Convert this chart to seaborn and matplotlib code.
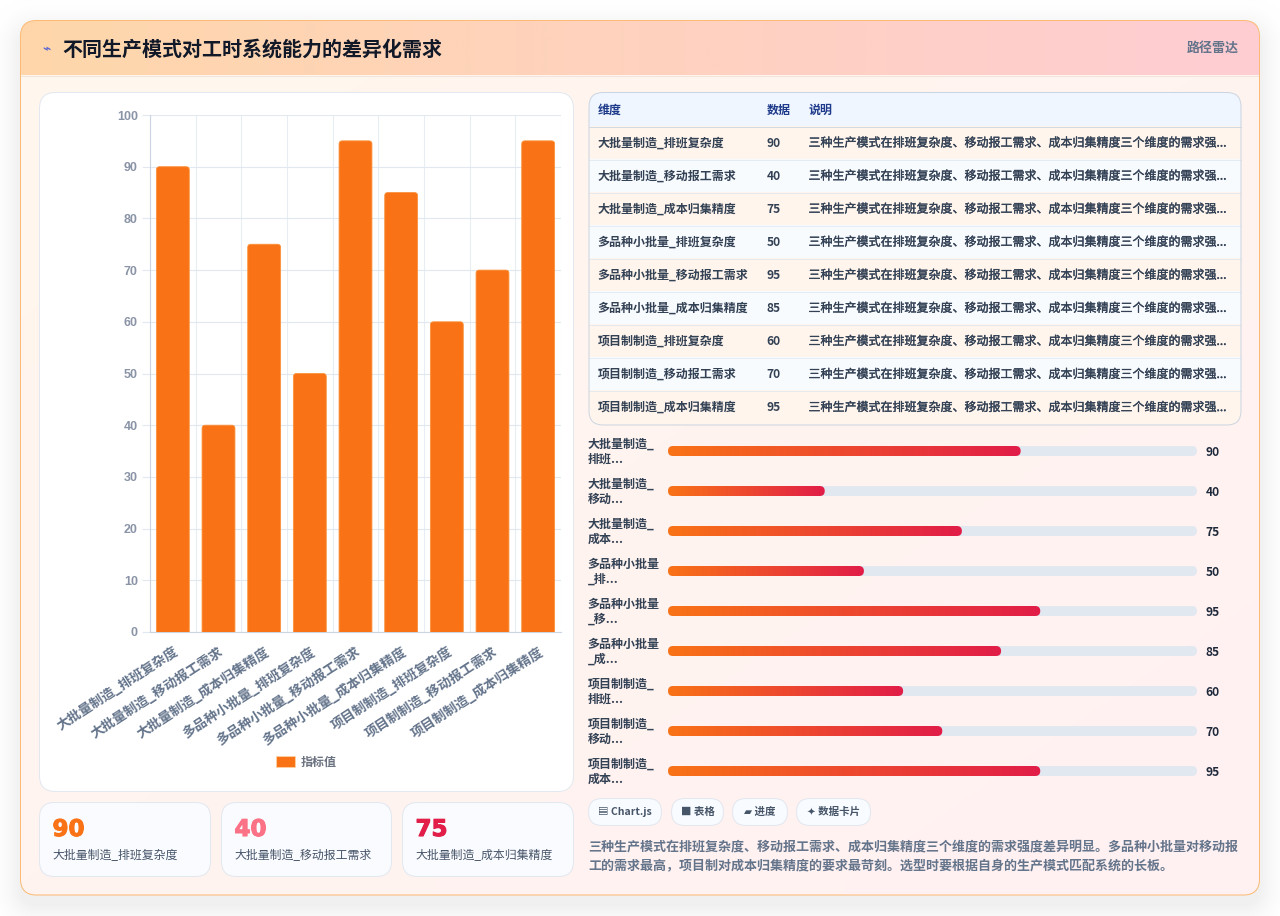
import numpy as np
import pandas as pd
import matplotlib
matplotlib.use("Agg")
import matplotlib.pyplot as plt
from matplotlib.patches import FancyBboxPatch, Rectangle
from matplotlib.transforms import ScaledTranslation
import matplotlib.patheffects as pe
import seaborn as sns

# ---- content ----
title = "不同生产模式对工时系统能力的差异化需求"
tag = "路径雷达"
dimensions = ["大批量制造_排班复杂度", "大批量制造_移动报工需求", "大批量制造_成本归集精度",
              "多品种小批量_排班复杂度", "多品种小批量_移动报工需求", "多品种小批量_成本归集精度",
              "项目制制造_排班复杂度", "项目制制造_移动报工需求", "项目制制造_成本归集精度"]
values = [90, 40, 75, 50, 95, 85, 60, 70, 95]
series_name = "指标值"
table_header = ["维度", "数据", "说明"]
note_short = "三种生产模式在排班复杂度、移动报工需求、成本归集精度三个维度的需求强..."
wrapped_labels = ["大批量制造_\n排班...", "大批量制造_\n移动...", "大批量制造_\n成本...",
                  "多品种小批量\n_排...", "多品种小批量\n_移...", "多品种小批量\n_成...",
                  "项目制制造_\n排班...", "项目制制造_\n移动...", "项目制制造_\n成本..."]
chips = ["▤ Chart.js", "■ 表格", "▰ 进度", "✦ 数据卡片"]
paragraph = ["三种生产模式在排班复杂度、移动报工需求、成本归集精度三个维度的需求强度差异明显。多品种小批量对移动报",
             "工的需求最高，项目制对成本归集精度的要求最苛刻。选型时要根据自身的生产模式匹配系统的长板。"]
card_colors = ["#f97316", "#fb7185", "#e11d48"]
progress_max = 135

W, H = 1280, 916
CJK = ["Noto Sans CJK SC", "DejaVu Sans"]
px = 0.72  # points per pixel at dpi 100

sns.set_theme(style="white")
plt.rcParams["font.family"] = CJK
plt.rcParams["axes.unicode_minus"] = False

fig = plt.figure(figsize=(W / 100, H / 100), dpi=100)
canvas = fig.add_axes([0, 0, 1, 1], zorder=0)
canvas.set_xlim(0, W)
canvas.set_ylim(H, 0)
canvas.axis("off")


def axes_at(x0, y0, x1, y1, zorder=2):
    return fig.add_axes([x0 / W, 1 - y1 / H, (x1 - x0) / W, (y1 - y0) / H], zorder=zorder)


def rounded(x0, y0, x1, y1, r, **kw):
    return FancyBboxPatch((x0, y0), x1 - x0, y1 - y0,
                          boxstyle=f"round,pad=0,rounding_size={r}", **kw)


def hex_rgb(c):
    return np.array(matplotlib.colors.to_rgb(c))


def gradient(ax, x0, y0, x1, y1, c0, c1, clip, diagonal=0.0, z=1):
    nx, ny = 256, 32
    xx, yy = np.meshgrid(np.linspace(0, 1, nx), np.linspace(0, 1, ny))
    t = ((xx + diagonal * yy) / (1 + diagonal))[..., None]
    img = hex_rgb(c0) * (1 - t) + hex_rgb(c1) * t
    im = ax.imshow(img, extent=(x0, x1, y1, y0), origin="upper", aspect="auto",
                   interpolation="bilinear", zorder=z)
    im.set_clip_path(clip)
    return im


# page backdrop with the soft shadow under the main card
yy, xx = np.mgrid[0:H, 0:W]
cx, cy, hx, hy = 640, 468, 620, 438
qx = np.abs(xx + 0.5 - cx) - hx + 16
qy = np.abs(yy + 0.5 - cy) - hy + 16
dist = np.hypot(np.maximum(qx, 0), np.maximum(qy, 0)) - 16
shade = 0.055 * np.clip(1 - dist / 34, 0, 1) ** 2
canvas.imshow((1 - shade)[..., None] * np.ones(3), extent=(0, W, H, 0), aspect="auto", zorder=0)
canvas.set_xlim(0, W)
canvas.set_ylim(H, 0)

# main card and its header band
card_clip = rounded(20.5, 20.5, 1259.5, 895, 16, fc="none", ec="none", transform=canvas.transData)
canvas.add_patch(card_clip)
gradient(canvas, 20, 20, 1259, 895, "#fff7ed", "#fff1f2", card_clip, diagonal=1.0, z=1)
gradient(canvas, 20, 20, 1259, 75, "#fed7aa", "#fecdd3", card_clip, diagonal=0.0, z=2)
canvas.plot([20, 1259], [75.5, 75.5], color="#f1e4da", lw=0.7, zorder=3)
canvas.add_patch(rounded(20.5, 20.5, 1259.5, 895, 16, fc="none", ec="#fdba74", lw=0.72, zorder=4))

canvas.text(46, 49, "⌁", color="#4f5fd6", fontsize=14 * px, ha="center", va="center",
            family=["DejaVu Sans"], zorder=5, fontweight="bold")
canvas.text(62, 49.5, title, color="#111827", fontsize=20 * px, fontweight="bold", va="center", zorder=5)
canvas.text(1239, 48, tag, color="#64748b", fontsize=13 * px, fontweight="bold", va="center", ha="right", zorder=5)

# chart panel
canvas.add_patch(rounded(39.5, 92.5, 573.5, 791.5, 16, fc="white", ec="#e2e8f0", lw=0.72, zorder=5))

# bar chart
ax = axes_at(150, 115, 561, 632)
ax.patch.set_alpha(0)
frame = pd.DataFrame({"dimension": dimensions, "value": values})
sns.barplot(data=frame, x="dimension", y="value", color="#f97316", saturation=1, width=0.72,
            ax=ax, label=series_name, zorder=3)
ax.set_xlim(-0.5, len(values) - 0.5)
ax.set_ylim(0, 100)
ax.set_xlabel("")
ax.set_ylabel("")
ax.set_yticks(np.arange(0, 101, 10))
ax.set_xticks(np.arange(len(values)))
ax.set_xticks(np.arange(len(values) + 1) - 0.5, minor=True)
ax.set_xticklabels(dimensions, rotation=33, ha="right", rotation_mode="anchor",
                   fontsize=13.4 * px, fontweight="bold", color="#64748b")
label_shift = ScaledTranslation(-3 / 100, 0, fig.dpi_scale_trans)
for lab in ax.get_xticklabels():
    lab.set_transform(lab.get_transform() + label_shift)
for lab in ax.get_yticklabels():
    lab.set(family=["Liberation Sans"], fontsize=12.5 * px, fontweight="bold", color="#8a94a6")
ax.tick_params(axis="x", which="major", length=0, pad=9)
ax.tick_params(axis="x", which="minor", length=8 * px, color="#e2e8f0", width=0.8)
ax.tick_params(axis="y", which="major", length=8 * px, color="#e2e8f0", width=0.8, pad=3, left=True)
ax.grid(True, axis="y", which="major", color="#e2e8f0", lw=0.8, zorder=0)
ax.grid(True, axis="x", which="minor", color="#e8edf3", lw=0.8, zorder=0)
ax.grid(False, axis="x", which="major")
ax.set_axisbelow(True)
for side in ("top", "right"):
    ax.spines[side].set_visible(False)
for side in ("left", "bottom"):
    ax.spines[side].set_visible(True)
    ax.spines[side].set_color("#cbd5e1")
    ax.spines[side].set_linewidth(0.8)

# round the top corners of each bar; the bottom corners fall below the clipped baseline
sx = 411 / len(values)
sy = 517 / 100
for bar in list(ax.patches):
    bx, bw, bh = bar.get_x(), bar.get_width(), bar.get_height()
    fancy = FancyBboxPatch((bx, -2), bw, bh + 2, boxstyle="round,pad=0,rounding_size=0.07",
                           mutation_aspect=sx / sy,
                           fc="#f97316", ec="#fb923c", lw=0.6, zorder=3)
    ax.add_patch(fancy)
    fancy.set_clip_path(ax.patch)
    bar.set_visible(False)

legend_handle = Rectangle((0, 0), 1, 1, fc="#f97316", ec="#fed7aa", lw=0.5)
ax.legend([legend_handle], [series_name], loc="center", frameon=False,
          bbox_to_anchor=((306 - 150) / 411, (632 - 762) / 517), handlelength=19 / 12, handleheight=1.0,
          handletextpad=0.45, prop={"size": 12 * px, "weight": "bold"}, labelcolor="#6b7280", borderpad=0)

# stat cards
card_spans = [(39.5, 210.5), (221.5, 391.5), (402.5, 573.5)]
for i, (x0, x1) in enumerate(card_spans):
    canvas.add_patch(rounded(x0, 802.5, x1, 876.5, 15, fc="#f9fbff", ec="#e2e8f0", lw=0.72, zorder=5))
    number = canvas.text(x0 + 13, 829.5, str(values[i]), color=card_colors[i], fontsize=23 * px,
                         fontweight="bold", family=["DejaVu Sans"], va="center", zorder=6)
    number.set_path_effects([pe.withStroke(linewidth=0.8, foreground=card_colors[i])])
    canvas.text(x0 + 13, 856, dimensions[i], color="#475569", fontsize=11.9 * px, va="center", zorder=6)

# data table
tx0, ty0, tx1, ty1 = 589, 92.5, 1241, 425
table_clip = rounded(tx0, ty0, tx1, ty1, 14, fc="none", ec="none", transform=canvas.transData)
canvas.add_patch(table_clip)
header_rect = Rectangle((tx0, ty0), tx1 - tx0, 33.5, fc="#eff6ff", ec="none", zorder=5)
canvas.add_patch(header_rect)
header_rect.set_clip_path(table_clip)
row_h = 33.06
row_top = 126
column_x = [597.5, 766.5, 808.5]
for xp, text in zip(column_x, table_header):
    canvas.text(xp, 110, text, color="#1e3a8a", fontsize=12 * px, fontweight="bold", va="center", zorder=7)
for i, (name, val) in enumerate(zip(dimensions, values)):
    top = row_top + i * row_h
    r = Rectangle((tx0, top), tx1 - tx0, row_h, fc="#fff5ec" if i % 2 == 0 else "#f8fbfe", ec="none", zorder=5)
    canvas.add_patch(r)
    r.set_clip_path(table_clip)
    mid = top + row_h / 2 + 0.5
    canvas.text(column_x[0], mid, name, color="#334155", fontsize=12 * px, fontweight="bold", va="center", zorder=7)
    canvas.text(column_x[1], mid, str(val), color="#334155", fontsize=12 * px, fontweight="bold", va="center", zorder=7)
    note = canvas.text(column_x[2], mid, note_short, color="#334155", fontsize=12 * px, va="center", zorder=7)
    note.set_path_effects([pe.withStroke(linewidth=0.25, foreground="#334155")])
    canvas.plot([tx0, tx1], [top + 0.5, top + 0.5], color="#cbd5e1" if i == 0 else "#e2e8f0", lw=0.6, zorder=6)
canvas.add_patch(rounded(tx0, ty0, tx1, ty1, 14, fc="none", ec="#cbd5e1", lw=0.72, zorder=8))

# progress rows share one value scale
prog = axes_at(668, 431, 1197, 791, zorder=3)
prog.patch.set_alpha(0)
prog.axis("off")
unit = 529 / progress_max
for i, (label, val) in enumerate(zip(wrapped_labels, values)):
    mid = 451 + 40 * i
    track = FancyBboxPatch((0, mid - 5), progress_max, 10, boxstyle=f"round,pad=0,rounding_size={5 / unit}",
                           mutation_aspect=unit, fc="#e2e8f0", ec="none", zorder=1)
    prog.add_patch(track)
    fill = FancyBboxPatch((0, mid - 5), val, 10, boxstyle=f"round,pad=0,rounding_size={5 / unit}",
                          mutation_aspect=unit, fc="none", ec="none", zorder=2)
    prog.add_patch(fill)
    gradient(prog, 0, mid - 5, val, mid + 5, "#f97316", "#e11d48", fill, z=2)
    l1, l2 = label.split("\n")
    canvas.text(587.5, mid - 7, l1, color="#334155", fontsize=12 * px, fontweight="bold", va="center", zorder=6)
    canvas.text(587.5, mid + 8.5, l2, color="#334155", fontsize=12 * px, fontweight="bold", va="center", zorder=6)
    canvas.text(1205.5, mid + 1, str(val), color="#1e293b", fontsize=12 * px, fontweight="bold", va="center", zorder=6)
prog.set_xlim(0, progress_max)
prog.set_ylim(791, 431)

# technology chips
chip_spans = [(588.5, 661.5), (671.5, 723.5), (732.5, 787.5), (796.5, 870.5)]
for text, (x0, x1) in zip(chips, chip_spans):
    canvas.add_patch(rounded(x0, 798.5, x1, 825.5, 13.5, fc="#f8fbff", ec="#e2e8f0", lw=0.72, zorder=5))
    canvas.text((x0 + x1) / 2, 812, text, color="#475569", fontsize=10.5 * px, fontweight="bold",
                ha="center", va="center", zorder=6)

# closing remark
for j, line in enumerate(paragraph):
    canvas.text(588, 847 + 19.5 * j, line, color="#64748b", fontsize=13 * px, fontweight="bold", va="center", zorder=6)

fig.savefig("out.png", dpi=100)
